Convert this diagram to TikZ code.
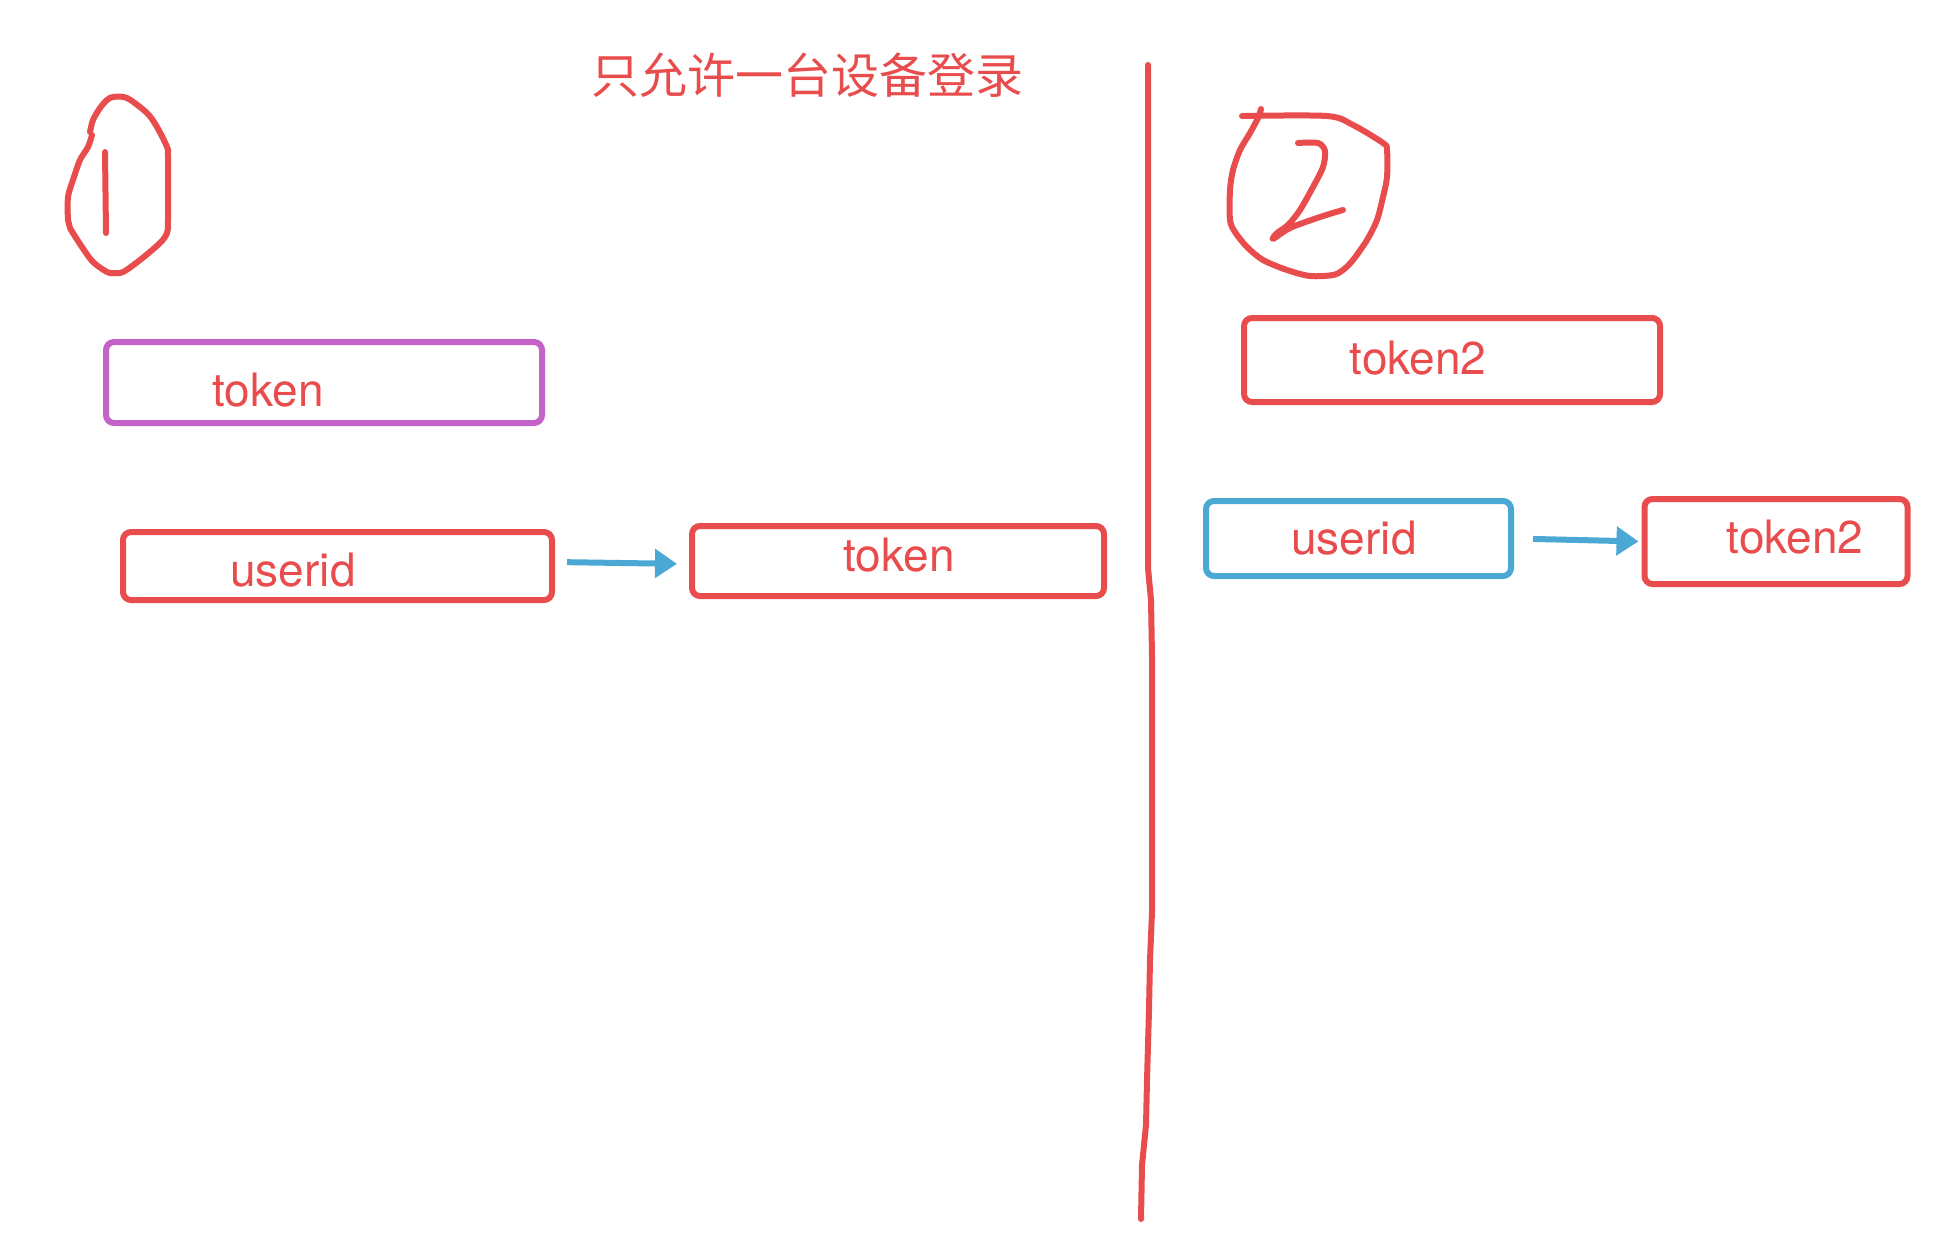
\documentclass[tikz,border=0pt]{standalone}
\usepackage{fontspec}
\setmainfont{TeX Gyre Heros}
\newfontfamily\cjk{Noto Sans CJK SC}
\usetikzlibrary{arrows.meta}
\definecolor{pred}{HTML}{E94C4C}
\definecolor{ppurple}{HTML}{C462C8}
\definecolor{pblue}{HTML}{4BA8D5}
\tikzset{
  box/.style={draw, rounded corners=8pt, line width=6pt, inner sep=0pt},
  lbl/.style={text=pred, inner sep=0pt, font=\fontsize{46}{50}\selectfont},
  ink/.style={draw=pred, line width=6pt, line cap=round, line join=round},
  arr/.style={draw=pblue, line width=6pt, -{Triangle[length=22pt,width=28pt]}},
}
\begin{document}
\begin{tikzpicture}[x=1pt,y=-1pt]
\useasboundingbox[fill=white] (0,0) rectangle (1960,1254);

% title
\node[text=pred, inner sep=0pt, font=\cjk\fontsize{48}{52}\selectfont] (title) at (807,75) {只允许一台设备登录};

% divider
\draw[ink] (1148,65) -- (1148,568) -- (1151,600) -- (1152,656) -- (1152,912)
  -- (1150,960) -- (1149,1010) -- (1147,1080) -- (1146,1125) -- (1142,1165) -- (1141,1219);

% circled 1
\draw[ink] plot[smooth] coordinates {(92,135) (88,147) (80,160) (73,180) (68,197) (68,220) (70,228)
  (82,247) (93,262) (107,272) (113,273) (123,272) (140,260) (160,243) (167,233) (168,220)
  (168,157) (167,147) (157,127) (147,113) (127,98) (113,97) (107,100) (100,108) (93,120) (90,132)};
\draw[ink] (105,152) -- (106,233);

% circled 2
\draw[ink] plot[smooth] coordinates {(1242,116) (1327,116) (1353,125) (1383,143) (1387,150) (1387,177)
  (1383,197) (1377,220) (1367,240) (1353,260) (1343,270) (1333,275) (1310,276) (1287,270)
  (1263,260) (1247,247) (1235,232) (1230,220) (1230,190) (1233,170) (1240,150) (1250,133)
  (1258,118) (1261,109)};
\draw[ink] plot[smooth] coordinates {(1298,143) (1318,143) (1325,151) (1323,167) (1313,187)
  (1300,210) (1288,225) (1277,233) (1273,239) (1290,228) (1320,217) (1343,210)};

% left panel
\node[box, draw=ppurple, minimum width=436pt, minimum height=81pt] (ptok) at (324,382.5) {};
\node[lbl] (ptoklbl) at (268,390) {token};

\node[box, draw=pred, minimum width=429pt, minimum height=68pt] (uid1) at (337.5,566) {};
\node[lbl] (uid1lbl) at (293,570) {userid};

\node[box, draw=pred, minimum width=412pt, minimum height=70pt] (tok1) at (898,561) {};
\node[lbl] (tok1lbl) at (899,555) {token};

\draw[arr, shorten <=12pt, shorten >=12pt] ([yshift=4pt]uid1.east) -- ([yshift=-3pt]tok1.west);

% right panel
\node[box, draw=pred, minimum width=416pt, minimum height=84pt] (tok2top) at (1452,360) {};
\node[lbl] (tok2toplbl) at (1418,358) {token2};

\node[box, draw=pblue, minimum width=305pt, minimum height=75pt] (uid2) at (1358.5,538.5) {};
\node[lbl] (uid2lbl) at (1354,538) {userid};

\node[box, draw=pred, minimum width=263pt, minimum height=85pt] (tok2) at (1776,541.5) {};
\node[lbl] (tok2lbl) at (1795,537) {token2};

\draw[arr, shorten <=19pt, shorten >=3pt] (uid2.east) -- (tok2.west);
\end{tikzpicture}
\end{document}
